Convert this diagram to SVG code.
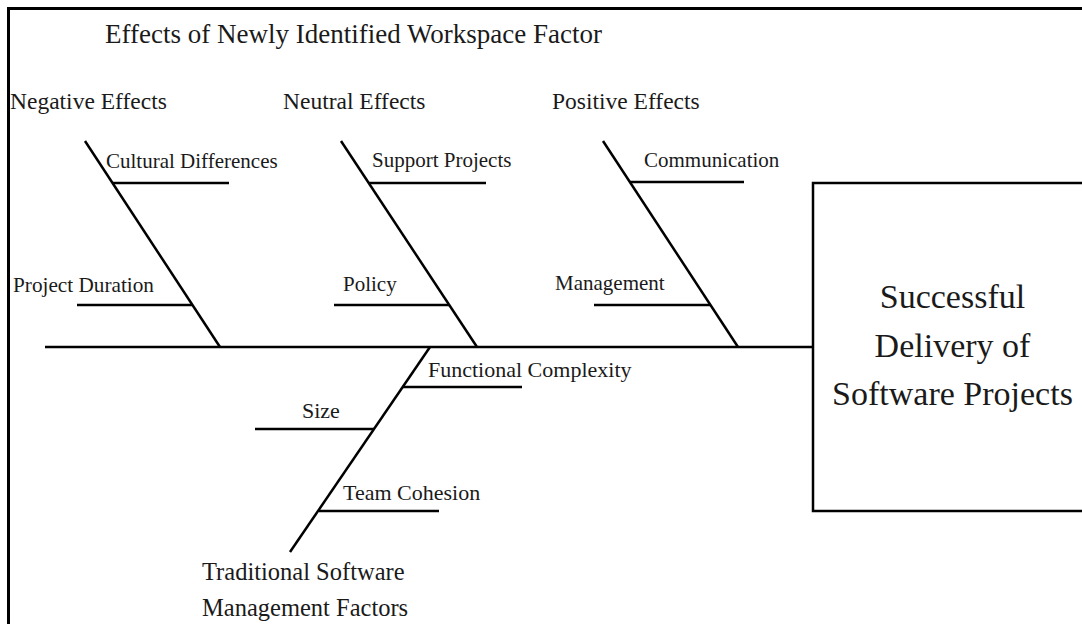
<svg xmlns="http://www.w3.org/2000/svg" width="1082" height="624" viewBox="0 0 1082 624">
  <style>
    text { font-family: "Liberation Serif", "Times New Roman", serif; fill: #1a1a1a; }
    .title { font-size: 27px; }
    .head { font-size: 23.5px; }
    .lbl { font-size: 21px; }
    .lbl2 { font-size: 22px; }
    .cat { font-size: 24.5px; }
    .big { font-size: 34px; text-anchor: middle; }
    .bone { stroke: #000; stroke-width: 2.5; fill: none; stroke-linecap: butt; }
    .frame { stroke: #000; stroke-width: 3; fill: none; }
    .box { stroke: #000; stroke-width: 2.5; fill: #fff; }
  </style>

  <rect x="0" y="0" width="1082" height="624" fill="#fff"/>
  <!-- outer frame (runs off the right and bottom edges) -->
  <path class="frame" d="M8.5,640 V8.5 H1100"/>

  <text class="title" x="105" y="43">Effects of Newly Identified Workspace Factor</text>

  <!-- connectors: spine, main bones and sub-bones -->
  <g id="connectors">
    <line class="bone" x1="45" y1="347" x2="813" y2="347"/>
    <!-- negative effects bone -->
    <line class="bone" x1="85" y1="141" x2="220" y2="347"/>
    <line class="bone" x1="113" y1="183" x2="229" y2="183"/>
    <line class="bone" x1="77" y1="305" x2="192" y2="305"/>
    <!-- neutral effects bone -->
    <line class="bone" x1="341" y1="141" x2="477" y2="347"/>
    <line class="bone" x1="369" y1="183" x2="486" y2="183"/>
    <line class="bone" x1="334" y1="305" x2="449" y2="305"/>
    <!-- positive effects bone -->
    <line class="bone" x1="603" y1="141" x2="738" y2="347"/>
    <line class="bone" x1="630" y1="182" x2="744" y2="182"/>
    <line class="bone" x1="594" y1="305" x2="711" y2="305"/>
    <!-- traditional factors bone -->
    <line class="bone" x1="430" y1="347" x2="290" y2="552"/>
    <line class="bone" x1="402" y1="387" x2="522" y2="387"/>
    <line class="bone" x1="255" y1="429" x2="374" y2="429"/>
    <line class="bone" x1="319" y1="511" x2="439" y2="511"/>
  </g>

  <g id="negative-effects">
    <text class="head" x="10" y="109">Negative Effects</text>
    <text class="lbl" x="106" y="168">Cultural Differences</text>
    <text class="lbl" x="13" y="292" textLength="141" lengthAdjust="spacingAndGlyphs">Project Duration</text>
  </g>

  <g id="neutral-effects">
    <text class="head" x="283" y="109">Neutral Effects</text>
    <text class="lbl" x="372" y="167">Support Projects</text>
    <text class="lbl" x="343" y="291">Policy</text>
  </g>

  <g id="positive-effects">
    <text class="head" x="552" y="109">Positive Effects</text>
    <text class="lbl" x="644" y="167">Communication</text>
    <text class="lbl" x="555" y="290">Management</text>
  </g>

  <g id="traditional-factors">
    <text class="lbl2" x="428" y="377">Functional Complexity</text>
    <text class="lbl2" x="302" y="418">Size</text>
    <text class="lbl2" x="343" y="500">Team Cohesion</text>
    <text class="cat" x="202" y="580">Traditional Software</text>
    <text class="cat" x="202" y="616">Management Factors</text>
  </g>

  <g id="outcome">
    <rect class="box" x="813" y="183" width="300" height="328"/>
    <text class="big" x="952.5" y="308">Successful</text>
    <text class="big" x="952.5" y="357">Delivery of</text>
    <text class="big" x="952.5" y="405">Software Projects</text>
  </g>
</svg>
